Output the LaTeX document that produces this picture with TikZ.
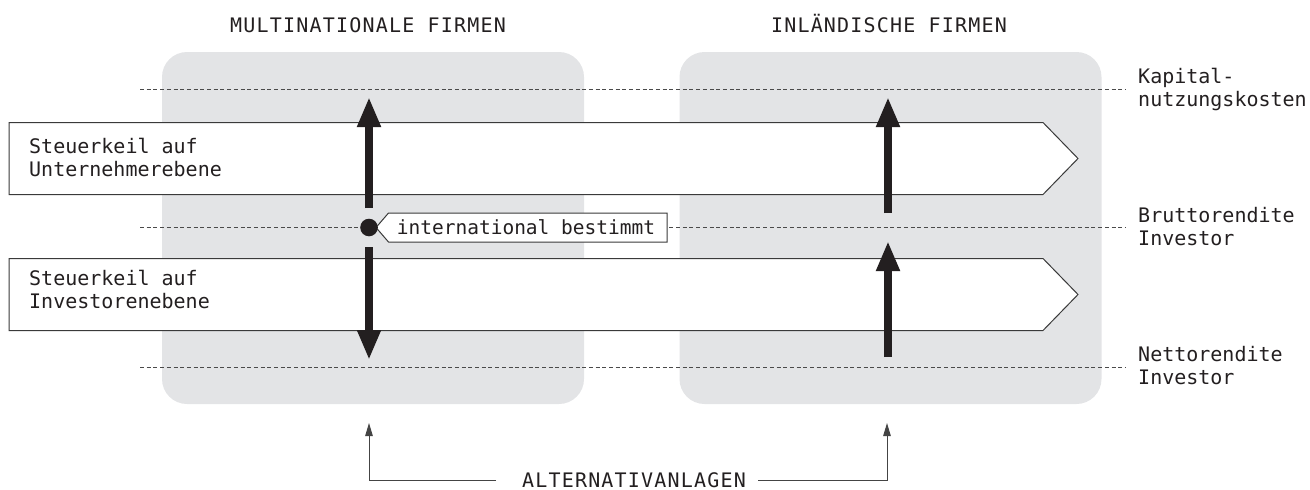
\documentclass[tikz,border=0pt]{standalone}
\usepackage{fontspec}
\usetikzlibrary{arrows.meta}
\newfontfamily\monofnt{DejaVu Sans Mono}
\newfontfamily\capsfnt[LetterSpace=6]{DejaVu Sans Mono}
\definecolor{boxgray}{HTML}{E3E4E6}
\definecolor{inkblack}{HTML}{231F20}
\definecolor{outline}{HTML}{3A3A3A}
\definecolor{dashgray}{HTML}{4A4A4A}
\definecolor{thingray}{HTML}{444444}
\tikzset{
  panel/.style={fill=boxgray, rounded corners=25pt, minimum width=422pt, minimum height=352pt, inner sep=0pt},
  headtxt/.style={font=\capsfnt\fontsize{20}{23}\selectfont, text=inkblack, inner sep=0pt, anchor=base},
  bandtxt/.style={font=\monofnt\fontsize{20}{23}\selectfont, text=inkblack, inner sep=0pt, align=left},
  lbltxt/.style={font=\monofnt\fontsize{19.5}{23}\selectfont, text=inkblack, inner sep=0pt},
  bandshape/.style={draw=outline, fill=white, line width=1pt},
  refline/.style={draw=dashgray, line width=0.9pt, dash pattern=on 4pt off 2.7pt},
  bigarrow/.style={draw=inkblack, line width=7.5pt, -{Triangle[width=22pt,length=30pt]}},
  thinarrow/.style={draw=thingray, line width=1pt, -{Triangle[width=7.5pt,length=13pt]}},
}
\begin{document}
\begin{tikzpicture}[x=1pt,y=-1pt]
\useasboundingbox (0,0) rectangle (1310,490);

% panels
\node[panel] (pm) at (373,228) {};
\node[panel] (pi) at (890.5,228) {};

% headings
\node[headtxt] (hm) at (368,32) {MULTINATIONALE FIRMEN};
\node[headtxt] (hi) at (889,32) {INLÄNDISCHE FIRMEN};

% reference lines
\coordinate (k0) at (140,89);   \coordinate (k1) at (1125,89);
\coordinate (b0) at (140,227.5); \coordinate (b1) at (1125,227.5);
\coordinate (n0) at (140,367);  \coordinate (n1) at (1125,367);
\draw[refline] (k0) -- (k1);
\draw[refline] (b0) -- (b1);
\draw[refline] (n0) -- (n1);

% bands
\draw[bandshape] (9,122.5) -- (1043,122.5) -- (1078,158.5) -- (1043,194.5) -- (9,194.5) -- cycle;
\draw[bandshape] (9,258.5) -- (1043,258.5) -- (1078,294.5) -- (1043,330.5) -- (9,330.5) -- cycle;
\node[bandtxt, anchor=base west] (bt1) at (29,176.5) {Steuerkeil auf\\Unternehmerebene};
\node[bandtxt, anchor=base west] (bt2) at (29,308.5) {Steuerkeil auf\\Investorenebene};

% right labels
\node[bandtxt, anchor=base west] (rk) at (1138,106.5) {Kapital-\\nutzungskosten};
\node[bandtxt, anchor=base west] (rb) at (1138,245.5) {Bruttorendite\\Investor};
\node[bandtxt, anchor=base west] (rn) at (1138,384.5) {Nettorendite\\Investor};

% big arrows
\coordinate (mu0) at (369,208);  \coordinate (mu1) at (369,97);
\coordinate (md0) at (369,247);  \coordinate (md1) at (369,360);
\coordinate (iu0) at (888,213);  \coordinate (iu1) at (888,97);
\coordinate (il0) at (888,357);  \coordinate (il1) at (888,241);
\draw[bigarrow] (mu0) -- (mu1);
\draw[bigarrow] (md0) -- (md1);
\draw[bigarrow] (iu0) -- (iu1);
\draw[bigarrow] (il0) -- (il1);

% label box
\draw[bandshape] (376,227.5) -- (388.5,213) -- (667,213) -- (667,242) -- (388.5,242) -- cycle;
\node[lbltxt] (lb) at (526,227.5) {international bestimmt};
\fill[inkblack] (369,227.5) circle (8.8pt);

% alternatives
\node[headtxt] (alt) at (634,487) {ALTERNATIVANLAGEN};
\coordinate (aL) at (369,423); \coordinate (aR) at (887,423);
\coordinate (l1) at (496,480); \coordinate (r1) at (758,480);
\draw[thinarrow] (l1) -| (aL);
\draw[thinarrow] (r1) -| (aR);
\end{tikzpicture}
\end{document}
